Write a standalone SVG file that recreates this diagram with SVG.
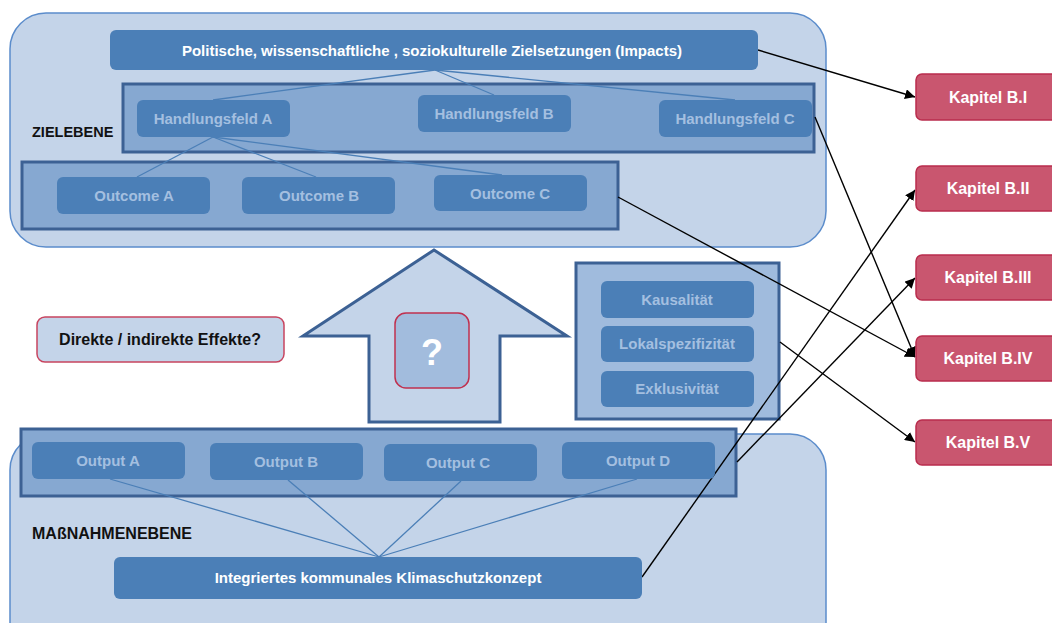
<svg xmlns="http://www.w3.org/2000/svg" width="1052" height="623" viewBox="0 0 1052 623">
<defs>
<marker id="ah" viewBox="0 0 10 10" refX="10" refY="5" markerWidth="10" markerHeight="10" markerUnits="userSpaceOnUse" orient="auto">
<path d="M0,0 L10,5 L0,10 z" fill="#000"/>
</marker>
</defs>
<style>
.cont{fill:#c4d4e9;stroke:#5b8ccb;stroke-width:1.5}
.frame{fill:#86a8d1;stroke:#3c6194;stroke-width:3}
.frame2{fill:#a0bbdd;stroke:#3c6194;stroke-width:3}
.box{fill:#4b7fb7}
.t{font-family:"Liberation Sans",Arial,sans-serif;font-weight:bold;text-anchor:middle}
.lt{fill:#a4bfe0;font-size:15px}
.wt{fill:#fff;font-size:15px}
.kt{fill:#fff;font-size:16px}
.bk{fill:#111;font-size:16px}
.kap{fill:#c9566f;stroke:#b92d4d;stroke-width:1.5}
.blue{stroke:#4b7fb7;stroke-width:1.3;fill:none}
.blk{stroke:#000;stroke-width:1.4;fill:none;marker-end:url(#ah)}
</style>
<rect width="1052" height="623" fill="#fff"/>
<g id="zielebene">
<rect class="cont" x="10" y="13" width="816" height="234" rx="36"/>
<text class="t bk" x="32" y="137" style="text-anchor:start;font-size:14.5px">ZIELEBENE</text>
</g>
<g id="massnahmenebene">
<rect class="cont" x="10" y="434" width="816" height="230" rx="36"/>
<text class="t bk" x="32" y="539" style="text-anchor:start">MAßNAHMENEBENE</text>
</g>
<g id="frame-handlungsfeld"><rect class="frame" x="123" y="84" width="691" height="68"/></g>
<g id="frame-outcome"><rect class="frame" x="22" y="162" width="596" height="67"/></g>
<g id="arrow-up"><polygon points="434,250 567,336 500,336 500,422 369,422 369,336 303,336" fill="#c4d4e9" stroke="#3c6194" stroke-width="3" stroke-linejoin="miter"/></g>
<g id="frame-criteria"><rect class="frame2" x="576" y="263" width="203" height="156"/></g>
<g id="frame-output"><rect class="frame" x="21" y="429" width="715" height="67"/></g>
<g id="connectors">
<line class="blue" x1="435" y1="70" x2="213" y2="100"/>
<line class="blue" x1="435" y1="70" x2="494" y2="95"/>
<line class="blue" x1="435" y1="70" x2="735" y2="100"/>
<line class="blue" x1="213" y1="137" x2="137" y2="177"/>
<line class="blue" x1="213" y1="137" x2="316" y2="177"/>
<line class="blue" x1="213" y1="137" x2="502" y2="175"/>
<line class="blue" x1="379" y1="557" x2="110" y2="479"/>
<line class="blue" x1="379" y1="557" x2="288" y2="480"/>
<line class="blue" x1="379" y1="557" x2="461" y2="481"/>
<line class="blue" x1="379" y1="557" x2="637" y2="479"/>
<line class="blk" x1="758" y1="50" x2="915" y2="97"/>
<line class="blk" x1="815" y1="117" x2="915" y2="357"/>
<line class="blk" x1="618" y1="197" x2="915" y2="357"/>
<line class="blk" x1="642" y1="577" x2="915" y2="190"/>
<line class="blk" x1="737" y1="462" x2="915" y2="278"/>
<line class="blk" x1="780" y1="342" x2="915" y2="442"/>
</g>
<g id="impacts"><rect class="box" x="110" y="30" width="648" height="40" rx="6"/><text class="t wt" x="432" y="56">Politische, wissenschaftliche , soziokulturelle Zielsetzungen (Impacts)</text></g>
<g id="hf-a"><rect class="box" x="137" y="100" width="153" height="37" rx="6"/><text class="t lt" x="213" y="124">Handlungsfeld A</text></g>
<g id="hf-b"><rect class="box" x="418" y="95" width="153" height="37" rx="6"/><text class="t lt" x="494" y="119">Handlungsfeld B</text></g>
<g id="hf-c"><rect class="box" x="659" y="100" width="153" height="37" rx="6"/><text class="t lt" x="735" y="124">Handlungsfeld C</text></g>
<g id="oc-a"><rect class="box" x="57" y="177" width="153" height="37" rx="6"/><text class="t lt" x="134" y="201">Outcome A</text></g>
<g id="oc-b"><rect class="box" x="242" y="177" width="153" height="37" rx="6"/><text class="t lt" x="319" y="201">Outcome B</text></g>
<g id="oc-c"><rect class="box" x="434" y="175" width="153" height="36" rx="6"/><text class="t lt" x="510" y="199">Outcome C</text></g>
<g id="direkte"><rect x="37" y="317" width="247" height="45" rx="8" fill="#c4d4e9" stroke="#c8445f" stroke-width="1.5"/><text class="t bk" x="160" y="345">Direkte / indirekte Effekte?</text></g>
<g id="question"><rect x="395" y="313" width="74" height="75" rx="11" fill="#a2bcdd" stroke="#c0304f" stroke-width="1.5"/><text class="t" x="432" y="365" fill="#fff" font-size="36">?</text></g>
<g id="kausal"><rect class="box" x="601" y="281" width="153" height="37" rx="6"/><text class="t lt" x="677" y="305">Kausalität</text></g>
<g id="lokal"><rect class="box" x="601" y="326" width="153" height="36" rx="6"/><text class="t lt" x="677" y="349">Lokalspezifizität</text></g>
<g id="exkl"><rect class="box" x="601" y="371" width="153" height="36" rx="6"/><text class="t lt" x="677" y="394">Exklusivität</text></g>
<g id="out-a"><rect class="box" x="32" y="442" width="153" height="37" rx="6"/><text class="t lt" x="108" y="466">Output A</text></g>
<g id="out-b"><rect class="box" x="210" y="443" width="153" height="37" rx="6"/><text class="t lt" x="286" y="467">Output B</text></g>
<g id="out-c"><rect class="box" x="384" y="444" width="153" height="37" rx="6"/><text class="t lt" x="458" y="468">Output C</text></g>
<g id="out-d"><rect class="box" x="562" y="442" width="153" height="37" rx="6"/><text class="t lt" x="638" y="466">Output D</text></g>
<g id="iksk"><rect class="box" x="114" y="557" width="528" height="42" rx="6"/><text class="t wt" x="378" y="583">Integriertes kommunales Klimaschutzkonzept</text></g>
<g id="kap-1"><rect class="kap" x="916" y="74" width="150" height="46" rx="6"/><text class="t kt" x="988" y="103">Kapitel B.I</text></g>
<g id="kap-2"><rect class="kap" x="916" y="166" width="150" height="45" rx="6"/><text class="t kt" x="988" y="194">Kapitel B.II</text></g>
<g id="kap-3"><rect class="kap" x="916" y="255" width="150" height="45" rx="6"/><text class="t kt" x="988" y="283">Kapitel B.III</text></g>
<g id="kap-4"><rect class="kap" x="916" y="336" width="150" height="45" rx="6"/><text class="t kt" x="988" y="364">Kapitel B.IV</text></g>
<g id="kap-5"><rect class="kap" x="916" y="420" width="150" height="45" rx="6"/><text class="t kt" x="988" y="448">Kapitel B.V</text></g>
</svg>
